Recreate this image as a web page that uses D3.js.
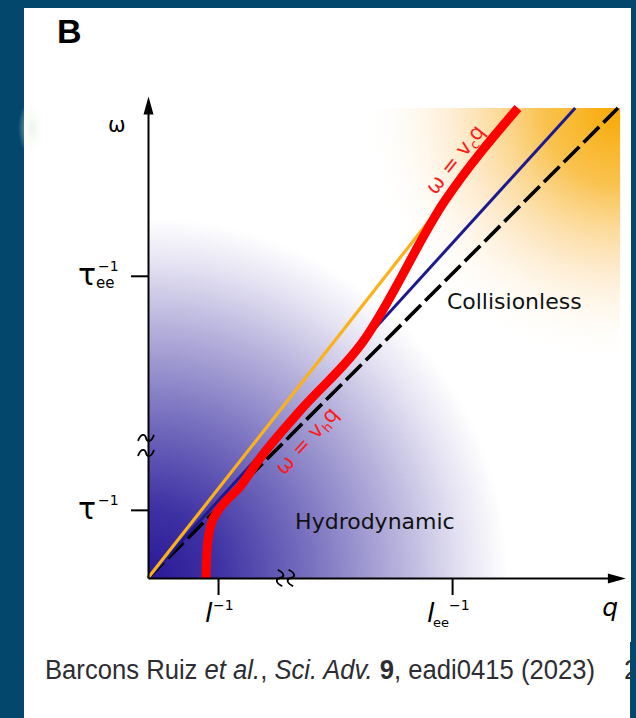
<!DOCTYPE html>
<html>
<head>
<meta charset="utf-8">
<script src="https://cdn.jsdelivr.net/npm/d3@7"></script>
<style>
  html, body { margin: 0; padding: 0; background: #03486c; }
  svg { display: block; }
</style>
</head>
<body>
<svg id="chart" width="636" height="718"></svg>
<script>
// dispersion sketch, arbitrary units (q and omega both 0..10)
const dashedLine = [[0, 0], [10, 10]];        // omega = vF q
const navyLine = [[0, 0], [9.09, 10]];         // omega = vh q
const orangeLine = [[0, 0], [7.87, 10]];       // omega = vc q
const redCurve = [
  [1.234, 0], [1.245, 0.38], [1.277, 0.81], [1.34, 1.13], [1.468, 1.40],
  [1.66, 1.64], [1.957, 1.94], [2.34, 2.49], [3.234, 3.557], [4.553, 5.0],
  [6.32, 8.03], [7.87, 10]
];

const qTicks = [1.49, 6.47];
const qTickSub = ["", "ee"];
const wTicks = [1.45, 6.43];
const wTickSub = ["", "ee"];
const qBreaks = [2.81, 3.04];
const wBreaks = [2.66, 2.98];

const regionLabels = ["Collisionless", "Hydrodynamic"];
const regionPos = [[6.36, 5.72], [3.13, 1.04]];

const qAxisMax = 10.05;
const wAxisMax = 10.15;
const unit = 47;

const svg = d3.select("#chart");

const x = d3.scaleLinear().domain([0, qAxisMax]).range([148, 148 + unit * qAxisMax]);
const y = d3.scaleLinear().domain([0, wAxisMax]).range([578, 578 - unit * wAxisMax]);

// white page
svg.append("rect").attr("x", 24).attr("y", 8).attr("width", 607).attr("height", 710).attr("fill", "#fff");

const defs = svg.append("defs");

const blue = defs.append("radialGradient")
  .attr("id", "blueGrad")
  .attr("gradientUnits", "userSpaceOnUse")
  .attr("cx", x(0)).attr("cy", y(0)).attr("r", 360);
[[0, "#2a1896", 1], [0.2, "#3f32a4", 1], [0.45, "#7870bf", 1], [0.7, "#b7b2dc", 1], [0.88, "#e6e4f3", 1], [1, "#ffffff", 1]]
  .forEach(function (s) {
    blue.append("stop").attr("offset", s[0]).attr("stop-color", s[1]).attr("stop-opacity", s[2]);
  });

const orange = defs.append("radialGradient")
  .attr("id", "orangeGrad")
  .attr("gradientUnits", "userSpaceOnUse")
  .attr("cx", x(qAxisMax)).attr("cy", y(10)).attr("r", 260);
[[0, "#f7a800", 1], [0.3, "#f9bc3c", 0.9], [0.6, "#fcd9a0", 0.6], [1, "#ffffff", 0]]
  .forEach(function (s) {
    orange.append("stop").attr("offset", s[0]).attr("stop-color", s[1]).attr("stop-opacity", s[2]);
  });

const green = defs.append("radialGradient").attr("id", "greenGrad");
green.append("stop").attr("offset", 0).attr("stop-color", "#e2f3df").attr("stop-opacity", 0.7);
green.append("stop").attr("offset", 1).attr("stop-color", "#ffffff").attr("stop-opacity", 0);

defs.append("clipPath").attr("id", "plotClip")
  .append("rect")
  .attr("x", x(0)).attr("y", y(10))
  .attr("width", x(qAxisMax) - x(0)).attr("height", y(0) - y(10));

defs.append("marker")
  .attr("id", "arrow")
  .attr("markerUnits", "userSpaceOnUse")
  .attr("viewBox", "-16 -6 22 12")
  .attr("refX", 0).attr("refY", 0)
  .attr("markerWidth", 22).attr("markerHeight", 12)
  .attr("orient", "auto")
  .append("path")
  .attr("d", "M5,0 L-13,-5 L-13,5 Z")
  .attr("fill", "#000");

// faint smudge at the page edge
svg.append("ellipse").attr("cx", 32).attr("cy", 128).attr("rx", 14).attr("ry", 28)
  .attr("fill", "url(#greenGrad)");

const plot = svg.append("g").attr("clip-path", "url(#plotClip)");
plot.append("rect")
  .attr("x", x(0)).attr("y", y(10))
  .attr("width", x(qAxisMax) - x(0)).attr("height", y(0) - y(10))
  .attr("fill", "url(#blueGrad)");
plot.append("rect")
  .attr("x", x(0)).attr("y", y(10))
  .attr("width", x(qAxisMax) - x(0)).attr("height", y(0) - y(10))
  .attr("fill", "url(#orangeGrad)");

const line = d3.line().x(function (d) { return x(d[0]); }).y(function (d) { return y(d[1]); });

svg.append("path").datum(dashedLine).attr("d", line)
  .attr("fill", "none").attr("stroke", "#000").attr("stroke-width", 3.6)
  .attr("stroke-dasharray", "22,6");
svg.append("path").datum(navyLine).attr("d", line)
  .attr("fill", "none").attr("stroke", "#1d1a8f").attr("stroke-width", 3);
svg.append("path").datum(orangeLine).attr("d", line)
  .attr("fill", "none").attr("stroke", "#fbb21a").attr("stroke-width", 3.2);
svg.append("path").datum(redCurve)
  .attr("d", line.curve(d3.curveMonotoneX))
  .attr("fill", "none").attr("stroke", "#ff0000").attr("stroke-width", 9)
  .attr("stroke-linejoin", "round");

// axes
const xAxis = svg.append("g")
  .attr("transform", `translate(0,${y(0)})`)
  .call(d3.axisBottom(x).tickValues(qTicks).tickFormat("").tickSize(17).tickSizeOuter(0));
const yAxis = svg.append("g")
  .attr("transform", `translate(${x(0)},0)`)
  .call(d3.axisLeft(y).tickValues(wTicks).tickFormat("").tickSize(17).tickSizeOuter(0));
[xAxis, yAxis].forEach(function (ax) {
  ax.select(".domain").attr("stroke", "#000").attr("stroke-width", 2).attr("marker-end", "url(#arrow)");
  ax.selectAll(".tick line").attr("stroke", "#000").attr("stroke-width", 2);
});

// axis breaks
const squiggle = "M-8,3 C-5,-5 -1,-4 0,0 S5,5 8,-3";
svg.selectAll(".wbreak").data(wBreaks).enter().append("path")
  .attr("class", "wbreak")
  .attr("transform", function (d) { return `translate(${x(0) - 2},${y(d)})`; })
  .attr("d", squiggle).attr("fill", "none").attr("stroke", "#000").attr("stroke-width", 1.8);
svg.selectAll(".qbreak").data(qBreaks).enter().append("path")
  .attr("class", "qbreak")
  .attr("transform", function (d) { return `translate(${x(d)},${y(0)}) rotate(95)`; })
  .attr("d", squiggle).attr("fill", "none").attr("stroke", "#000").attr("stroke-width", 1.8);

const font = "DejaVu Sans, Verdana, sans-serif";

// axis names
svg.append("text").attr("x", x(0) - 40).attr("y", y(9.5)).attr("font-family", font)
  .attr("font-size", 21).text("ω");
svg.append("text").attr("x", x(qAxisMax) - 18).attr("y", y(0) + 38).attr("font-family", font)
  .attr("font-size", 25).attr("font-style", "italic").text("q");

// omega tick labels (tau)
wTicks.forEach(function (t, i) {
  const ty = y(t);
  svg.append("text").attr("x", 96).attr("y", ty + 9).attr("text-anchor", "end")
    .attr("font-family", font).attr("font-size", 30).text("τ");
  svg.append("text").attr("x", 98).attr("y", ty - 5)
    .attr("font-family", font).attr("font-size", 14).text("−1");
  if (wTickSub[i]) {
    svg.append("text").attr("x", 96).attr("y", ty + 12)
      .attr("font-family", font).attr("font-size", 15).text(wTickSub[i]);
  }
});

// q tick labels (mean free paths)
qTicks.forEach(function (t, i) {
  const tx = x(t);
  const hasSub = !!qTickSub[i];
  const lx = hasSub ? tx - 25 : tx - 13;
  svg.append("text").attr("x", lx).attr("y", y(0) + 44)
    .attr("font-family", font).attr("font-size", 27).attr("font-style", "italic").text("l");
  let sx = lx + 8;
  if (hasSub) {
    svg.append("text").attr("x", lx + 6).attr("y", y(0) + 49)
      .attr("font-family", font).attr("font-size", 13).text(qTickSub[i]);
    sx = lx + 22;
  }
  svg.append("text").attr("x", sx).attr("y", y(0) + 32)
    .attr("font-family", font).attr("font-size", 14).text("−1");
});

// region names
regionLabels.forEach(function (name, i) {
  svg.append("text")
    .attr("x", x(regionPos[i][0])).attr("y", y(regionPos[i][1]))
    .attr("font-family", font).attr("font-size", 22).attr("fill", "#111").text(name);
});

// velocity labels along the lines
function lineLabel(pt, slopeLine, offset, subText) {
  const ang = Math.atan2(y(slopeLine[1][1]) - y(0), x(slopeLine[1][0]) - x(0)) * 180 / Math.PI;
  const t = svg.append("text")
    .attr("transform", `translate(${x(pt[0])},${y(pt[1])}) rotate(${ang})`)
    .attr("x", 0).attr("y", offset)
    .attr("text-anchor", "middle")
    .attr("font-family", font).attr("font-size", 21).attr("fill", "#ff1a1a");
  t.append("tspan").text("ω = v");
  t.append("tspan").attr("font-size", 13).attr("dy", 4).text(subText);
  t.append("tspan").attr("dy", -4).text("q");
}
lineLabel([6.83, 8.67], orangeLine, -11, "c");
lineLabel([2.98, 3.28], navyLine, 32, "h");

// panel letter
svg.append("text").attr("x", 57).attr("y", 43)
  .attr("font-family", "Liberation Sans, Arial, sans-serif").attr("font-weight", "bold")
  .attr("font-size", 34).text("B");

// citation
const capFont = "Liberation Sans Narrow, Liberation Sans, Arial, sans-serif";
const cap = svg.append("text").attr("x", 45).attr("y", 679)
  .attr("font-family", capFont)
  .attr("font-size", 27).attr("fill", "#2d2d33")
  .attr("textLength", 550).attr("lengthAdjust", "spacingAndGlyphs");
cap.append("tspan").text("Barcons Ruiz ");
cap.append("tspan").attr("font-style", "italic").text("et al.");
cap.append("tspan").text(", ");
cap.append("tspan").attr("font-style", "italic").text("Sci. Adv.");
cap.append("tspan").text(" ");
cap.append("tspan").attr("font-weight", "bold").text("9");
cap.append("tspan").text(", eadi0415 (2023)");
svg.append("text").attr("x", 624).attr("y", 679)
  .attr("font-family", capFont)
  .attr("font-size", 27).attr("fill", "#2d2d33").text("2");

// right edge strip
svg.append("rect").attr("x", 630).attr("y", 642).attr("width", 6).attr("height", 76).attr("fill", "#03486c");
</script>
</body>
</html>
